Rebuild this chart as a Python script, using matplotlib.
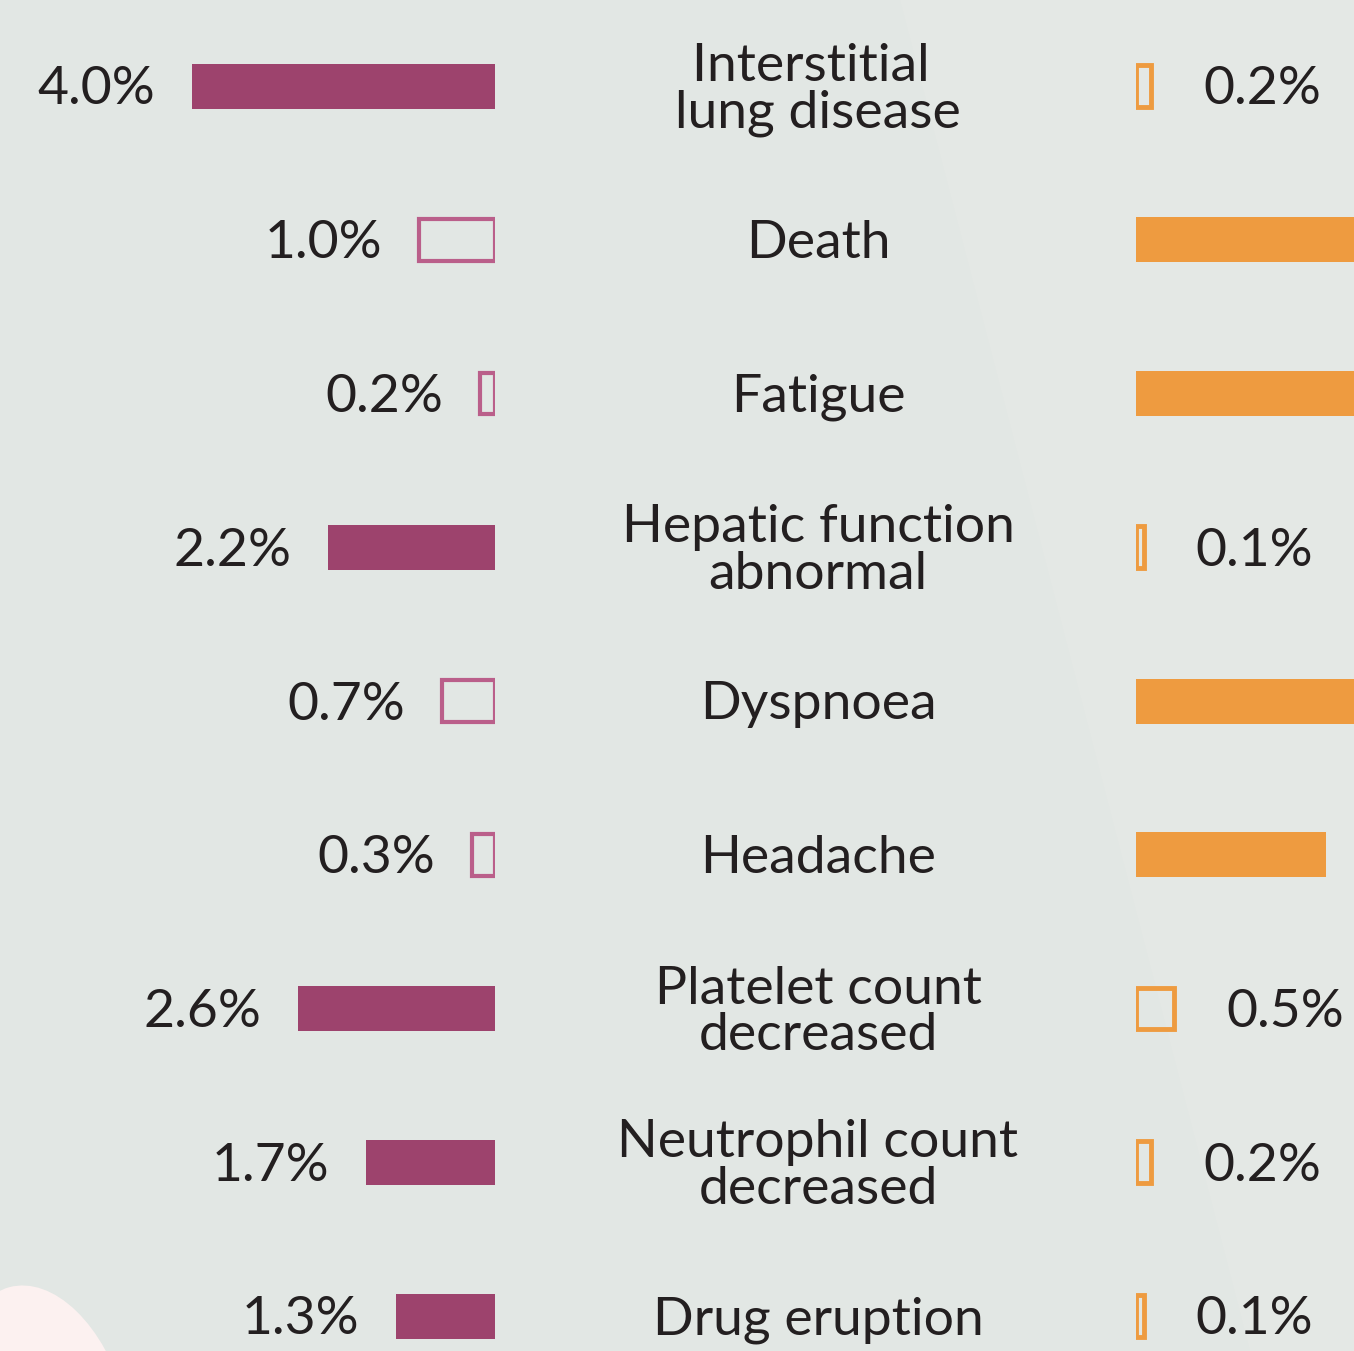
import numpy as np
import matplotlib.pyplot as plt
from matplotlib.patches import Polygon, Ellipse

# data
categories = ["Interstitial \nlung disease", "Death", "Fatigue", "Hepatic function\nabnormal",
              "Dyspnoea", "Headache", "Platelet count\ndecreased", "Neutrophil count\ndecreased",
              "Drug eruption"]
left_vals = [4.0, 1.0, 0.2, 2.2, 0.7, 0.3, 2.6, 1.7, 1.3]
# right arm values; Death/Fatigue/Dyspnoea/Headache run past the crop, so estimated
right_vals = [0.2, 3.5, 3.2, 0.1, 3.0, 2.5, 0.5, 0.2, 0.1]

W, H = 1354, 1351
DPI = 100
bg = "#E2E7E4"
purple = "#9D436D"
purple_line = "#BA5F8A"
orange = "#EE9B40"
txt = "#231F20"
FONT = "Lato"
FS = 38.5

px_per_pct = 75.8
row0, row_step = 86, 153.75
ylim = ((H - row0) / row_step, -row0 / row_step)
bar_h = 45 / row_step
dy = 4 / row_step  # nudge text down to sit on the bar centre

fig = plt.figure(figsize=(W / DPI, H / DPI), dpi=DPI)
fig.patch.set_facecolor(bg)

# background axes: faint light wedge + pink blob
bg_ax = fig.add_axes([0, 0, 1, 1])
bg_ax.set_xlim(0, W)
bg_ax.set_ylim(H, 0)
bg_ax.axis("off")
bg_ax.add_patch(Polygon([[900, 0], [W, 0], [W, H], [1250, H]], closed=True,
                        facecolor="#E4E8E5", edgecolor="none", zorder=0))
bg_ax.add_patch(Ellipse((45, 1420), 165, 275, angle=-15, facecolor="#FCF1F0",
                        edgecolor="none", zorder=1))

y = np.arange(len(categories))

lab_ax = fig.add_axes([0, 0, 1, 1])
lab_ax.set_xlim(0, 1)
lab_ax.set_ylim(*ylim)
lab_ax.axis("off")
for i, c in enumerate(categories):
    lab_ax.text(818 / W, i + dy, c, ha="center", va="center", fontsize=FS, color=txt,
                family=FONT, linespacing=1.0)

# left bars (purple), x inverted
left_w = 495 / W
axl = fig.add_axes([0, 0, left_w, 1])
axl.set_xlim(495 / px_per_pct, 0)
axl.set_ylim(*ylim)
axl.axis("off")
for i, (lv, rv) in enumerate(zip(left_vals, right_vals)):
    if lv >= rv:
        axl.barh(i, lv, height=bar_h, color=purple, edgecolor="none")
    else:
        axl.barh(i, lv, height=bar_h * 0.93, facecolor="none", edgecolor=purple_line,
                 linewidth=3)
    axl.text(lv + 37 / px_per_pct, i + dy, f"{lv:.1f}%", ha="right", va="center",
             fontsize=FS, color=txt, family=FONT)

# right bars (orange)
r0 = 1136
axr = fig.add_axes([r0 / W, 0, (W - r0) / W, 1])
axr.set_xlim(0, (W - r0) / px_per_pct)
axr.set_ylim(*ylim)
axr.axis("off")
xmax = (W - r0) / px_per_pct
for i, (lv, rv) in enumerate(zip(left_vals, right_vals)):
    if rv > lv:
        axr.barh(i, rv, height=bar_h, color=orange, edgecolor="none")
    else:
        axr.barh(i, rv, height=bar_h * 0.93, facecolor="none", edgecolor=orange,
                 linewidth=3.5)
    xl = rv + 52 / px_per_pct
    if xl < xmax - 1.2:
        axr.text(xl, i + dy, f"{rv:.1f}%", ha="left", va="center", fontsize=FS,
                 color=txt, family=FONT)

fig.savefig("out.png", dpi=DPI, facecolor=bg)
